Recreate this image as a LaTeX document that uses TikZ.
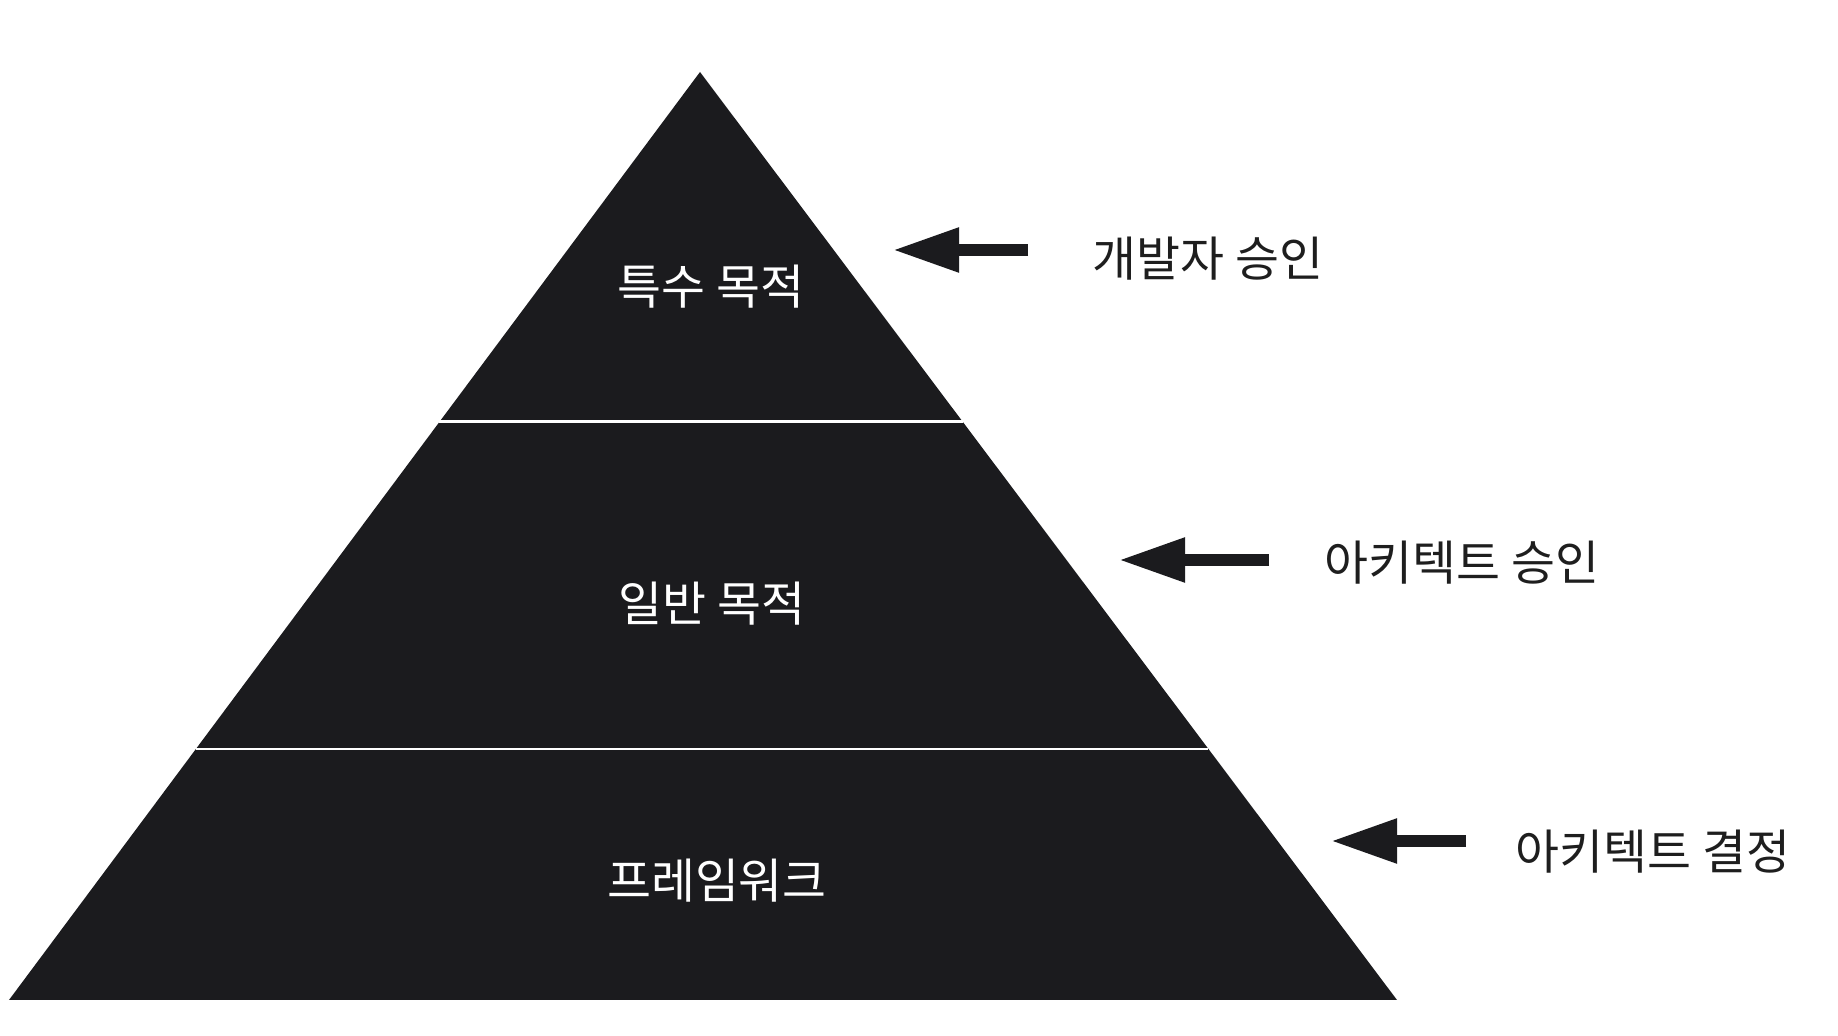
\documentclass[tikz,border=0pt]{standalone}
\usepackage{fontspec}
\setmainfont{Noto Sans CJK KR}
\usetikzlibrary{arrows.meta,calc}
\definecolor{ink}{HTML}{1B1B1E}
\definecolor{txt}{HTML}{1E1E1E}

\begin{document}
\begin{tikzpicture}[every node/.style={font=\fontsize{13.6}{16}\selectfont,inner sep=0pt}, lay/.style={text=white,anchor=center}, lbl/.style={text=txt,anchor=west}, a/.style={-{Triangle[length=6.6mm,width=4.2mm]},line width=3.3pt,draw=ink}]
\useasboundingbox (0,0) rectangle (18.38,10.36);
\coordinate (top) at (7.00,9.64);\coordinate (bl) at (0.09,0.36);\coordinate (br) at (13.97,0.36);
\fill[ink] (top)--(bl)--(br)--cycle;
\draw[white,line width=0.8pt] ($(top)!0.377!(bl)$)--($(top)!0.377!(br)$);
\draw[white,line width=0.8pt] ($(top)!0.7295!(bl)$)--($(top)!0.7295!(br)$);
\node[lay] (spec) at (7.11,7.49) {특수 목적};
\node[lay] (gen) at (7.12,4.32) {일반 목적};
\node[lay] (fw) at (7.17,1.55) {프레임워크};
\node[lbl] (dev) at (10.92,7.77) {개발자 승인};
\node[lbl] (arch) at (13.24,4.73) {아키텍트 승인};
\node[lbl] (dec) at (15.15,1.84) {아키텍트 결정};
\coordinate (t1) at (10.28,7.86);\coordinate (h1) at (8.93,7.86);
\coordinate (t2) at (12.69,4.76);\coordinate (h2) at (11.19,4.76);
\coordinate (t3) at (14.66,1.95);\coordinate (h3) at (13.31,1.95);
\draw[a] (t1)--(h1);\draw[a] (t2)--(h2);\draw[a] (t3)--(h3);
\end{tikzpicture}
\end{document}
